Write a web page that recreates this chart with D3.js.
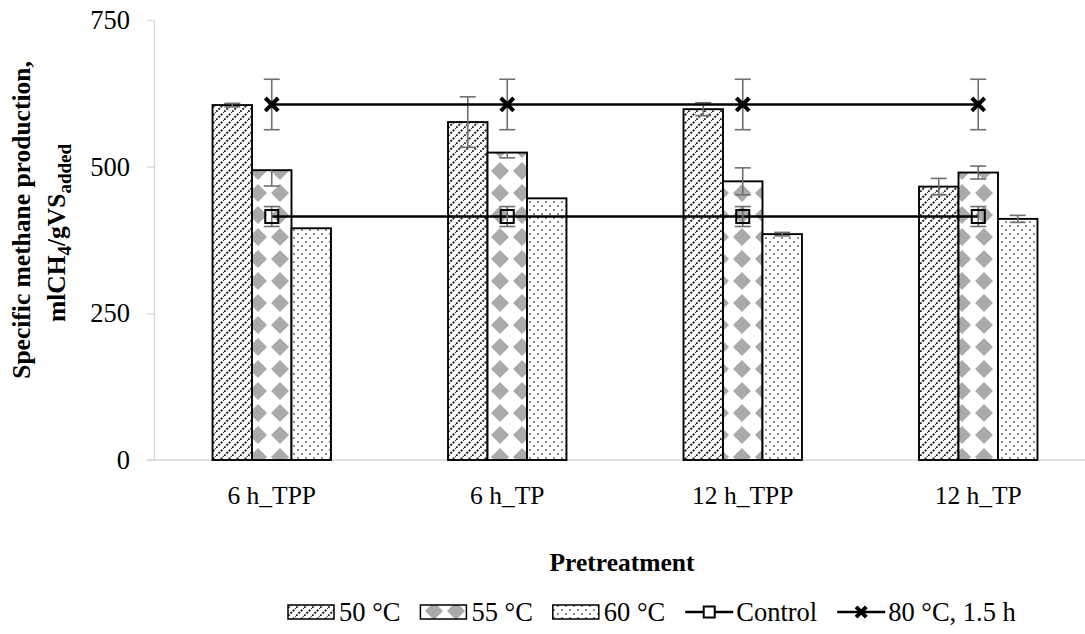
<!DOCTYPE html>
<html>
<head>
<meta charset="utf-8">
<script src="https://cdn.jsdelivr.net/npm/d3@7"></script>
<style>
  body { margin: 0; background: #fff; }
  svg { display: block; font-family: "Liberation Serif", "Times New Roman", serif; }
</style>
</head>
<body>
<svg id="chart" width="1085" height="634"></svg>
<script>
// data
const categories = ['6 h_TPP', '6 h_TP', '12 h_TPP', '12 h_TP'];
const barSeries = ['50 °C', '55 °C', '60 °C'];
const values50 = [605, 576, 598, 466];
const values55 = [494, 524, 475, 490];
const values60 = [395, 446, 385, 411];
const err50Plus = [3, 43, 11, 14];
const err50Minus = [3, 43, 11, 14];
const err55Plus = [0, 0, 23, 11];
const err55Minus = [27, 9, 23, 11];
const err60Plus = [0, 0, 3, 6];
const err60Minus = [0, 0, 3, 6];
const controlValues = [415, 415, 415, 415];
const controlErr = [17, 17, 17, 17];
const heat80Values = [606, 606, 606, 606];
const heat80Err = [43, 43, 43, 43];
const yTicks = [0, 250, 500, 750];

const svg = d3.select('#chart');
const plotLeft = 154, plotRight = 1096, plotTop = 20, plotBottom = 460;

let x = d3.scaleBand().domain(categories).range([plotLeft, plotRight]).padding(0);
let y = d3.scaleLinear().domain([0, 750]).range([plotBottom, plotTop]);
let groupW = x.bandwidth() * 0.503;
let xInner = d3.scaleBand().domain(barSeries).range([-groupW / 2, groupW / 2]).padding(0);
const cx = (c) => x(c) + x.bandwidth() / 2;

// patterns
const defs = svg.append('defs');
let p50 = defs.append('pattern').attr('id', 'p50').attr('patternUnits', 'userSpaceOnUse')
  .attr('width', 8).attr('height', 8);
p50.append('rect').attr('width', 8).attr('height', 8).attr('fill', '#fff');
p50.append('path').attr('d', 'M-2,2 L2,-2 M0,8 L8,0 M6,10 L10,6')
  .attr('stroke', '#333').attr('stroke-width', 2).attr('stroke-dasharray', '2.2,1.2');

let p55 = defs.append('pattern').attr('id', 'p55').attr('patternUnits', 'userSpaceOnUse')
  .attr('width', 22).attr('height', 22).attr('patternTransform', 'translate(5,6)');
p55.append('rect').attr('width', 22).attr('height', 22).attr('fill', '#fff');
p55.append('path').attr('d', 'M11,2 L20,11 L11,20 L2,11 Z').attr('fill', '#aaaaaa');

let p60 = defs.append('pattern').attr('id', 'p60').attr('patternUnits', 'userSpaceOnUse')
  .attr('width', 8).attr('height', 8);
p60.append('rect').attr('width', 8).attr('height', 8).attr('fill', '#fff');
p60.append('rect').attr('x', 1).attr('y', 1).attr('width', 2).attr('height', 2).attr('fill', '#8a8a8a');
p60.append('rect').attr('x', 5).attr('y', 5).attr('width', 2).attr('height', 2).attr('fill', '#8a8a8a');

const fills = { '50 °C': 'url(#p50)', '55 °C': 'url(#p55)', '60 °C': 'url(#p60)' };

// axes
let yAxis = d3.axisLeft(y).tickValues(yTicks).tickSize(7).tickPadding(17).tickSizeOuter(0);
let gy = svg.append('g').attr('transform', `translate(${plotLeft},0)`).call(yAxis);
gy.selectAll('line, path').attr('stroke', '#d9d9d9').attr('stroke-width', 1.3);
gy.selectAll('text').attr('font-size', 26.5).attr('font-family', 'Liberation Serif').attr('fill', '#000');

svg.append('line').attr('x1', plotLeft - 7).attr('x2', plotRight).attr('y1', plotBottom).attr('y2', plotBottom)
  .attr('stroke', '#d9d9d9').attr('stroke-width', 1.3);

svg.append('g').selectAll('text').data(categories).join('text')
  .attr('x', d => cx(d)).attr('y', 504).attr('text-anchor', 'middle')
  .attr('font-size', 25.5).text(d => d);

svg.append('text').attr('x', 622).attr('y', 571).attr('text-anchor', 'middle')
  .attr('font-size', 25.5).attr('font-weight', 'bold').text('Pretreatment');

let yt = svg.append('g').attr('transform', 'rotate(-90)')
  .attr('font-size', 25.5).attr('font-weight', 'bold').attr('text-anchor', 'middle');
yt.append('text').attr('x', -220).attr('y', 30).text('Specific methane production,');
let l2 = yt.append('text').attr('x', -233).attr('y', 65);
l2.append('tspan').text('mlCH');
l2.append('tspan').attr('font-size', 19).attr('dy', 6).text('4');
l2.append('tspan').attr('dy', -6).text('/gVS');
l2.append('tspan').attr('font-size', 19).attr('dy', 6).text('added');

// bars
let barData = [];
categories.forEach((c, i) => {
  barData.push({ c, s: '50 °C', v: values50[i], ep: err50Plus[i], em: err50Minus[i] });
  barData.push({ c, s: '55 °C', v: values55[i], ep: err55Plus[i], em: err55Minus[i] });
  barData.push({ c, s: '60 °C', v: values60[i], ep: err60Plus[i], em: err60Minus[i] });
});

svg.append('g').selectAll('rect').data(barData).join('rect')
  .attr('x', d => cx(d.c) + xInner(d.s))
  .attr('y', d => y(d.v))
  .attr('width', xInner.bandwidth())
  .attr('height', d => y(0) - y(d.v))
  .attr('fill', d => fills[d.s])
  .attr('stroke', '#000').attr('stroke-width', 1.9);

function errorBar(g, xc, v, ep, em) {
  if (ep === 0 && em === 0) return;
  const col = '#6f6f6f', w = 8;
  g.append('line').attr('x1', xc).attr('x2', xc).attr('y1', y(v + ep)).attr('y2', y(v - em))
    .attr('stroke', col).attr('stroke-width', 1.6);
  if (ep > 0) g.append('line').attr('x1', xc - w).attr('x2', xc + w).attr('y1', y(v + ep)).attr('y2', y(v + ep))
    .attr('stroke', col).attr('stroke-width', 1.6);
  if (em > 0) g.append('line').attr('x1', xc - w).attr('x2', xc + w).attr('y1', y(v - em)).attr('y2', y(v - em))
    .attr('stroke', col).attr('stroke-width', 1.6);
}

let eg = svg.append('g');
barData.forEach(d => errorBar(eg, cx(d.c) + xInner(d.s) + xInner.bandwidth() / 2, d.v, d.ep, d.em));

// lines
let line = d3.line().x((d, i) => cx(categories[i])).y(d => y(d));
svg.append('path').datum(controlValues).attr('d', line).attr('fill', 'none')
  .attr('stroke', '#000').attr('stroke-width', 2.5);
svg.append('path').datum(heat80Values).attr('d', line).attr('fill', 'none')
  .attr('stroke', '#000').attr('stroke-width', 2.5);

let lg = svg.append('g');
categories.forEach((c, i) => {
  errorBar(lg, cx(c), controlValues[i], controlErr[i], controlErr[i]);
  errorBar(lg, cx(c), heat80Values[i], heat80Err[i], heat80Err[i]);
});

svg.append('g').selectAll('rect').data(controlValues).join('rect')
  .attr('x', (d, i) => cx(categories[i]) - 6.5).attr('y', d => y(d) - 6.5)
  .attr('width', 13).attr('height', 13)
  .attr('fill', 'none').attr('stroke', '#000').attr('stroke-width', 2);

let xSym = d3.symbol(d3.symbolX, 110);
svg.append('g').selectAll('path').data(heat80Values).join('path')
  .attr('transform', (d, i) => `translate(${cx(categories[i])},${y(d)})`)
  .attr('d', xSym()).attr('fill', 'none').attr('stroke', '#000').attr('stroke-width', 4);

// legend
let leg = svg.append('g').attr('font-size', 26.5);
let lx = 288;
const legY = 612;
const legendItems = [
  { label: '50 °C', type: 'bar', fill: 'url(#p50)' },
  { label: '55 °C', type: 'bar', fill: 'url(#p55)' },
  { label: '60 °C', type: 'bar', fill: 'url(#p60)' },
  { label: 'Control', type: 'square' },
  { label: '80 °C, 1.5 h', type: 'x' }
];
legendItems.forEach(item => {
  if (item.type === 'bar') {
    leg.append('rect').attr('x', lx).attr('y', legY - 7).attr('width', 46).attr('height', 14)
      .attr('fill', item.fill).attr('stroke', '#000').attr('stroke-width', 1.5);
  } else {
    leg.append('line').attr('x1', lx).attr('x2', lx + 48).attr('y1', legY).attr('y2', legY)
      .attr('stroke', '#000').attr('stroke-width', 2.5);
    if (item.type === 'square') {
      leg.append('rect').attr('x', lx + 24 - 5.5).attr('y', legY - 5.5).attr('width', 11).attr('height', 11)
        .attr('fill', '#fff').attr('stroke', '#000').attr('stroke-width', 2);
    } else {
      leg.append('path').attr('transform', `translate(${lx + 24},${legY})`)
        .attr('d', d3.symbol(d3.symbolX, 70)()).attr('stroke', '#000').attr('stroke-width', 4);
    }
  }
  let t = leg.append('text').attr('x', lx + 51).attr('y', legY + 9).text(item.label);
  lx += 51 + t.node().getComputedTextLength() + 20;
});
</script>
</body>
</html>
